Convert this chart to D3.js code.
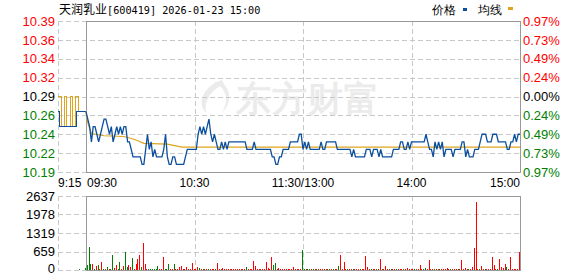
<!DOCTYPE html>
<html>
<head>
<meta charset="utf-8">
<script src="https://cdn.jsdelivr.net/npm/d3@7"></script>
<style>
  html, body { margin: 0; padding: 0; background: #fff; }
  svg { display: block; }
  text { font-family: "Liberation Sans", Arial, sans-serif; }
</style>
</head>
<body>
<div id="chart"></div>
<script>
// ---- data -------------------------------------------------------------
const stockName = "天润乳业";
const stockCode = "[600419]";
const stamp = "2026-01-23 15:00";

const priceMin = 10.19, priceMax = 10.39;
const priceTicks = ["10.39", "10.36", "10.34", "10.32", "10.29", "10.26", "10.24", "10.22", "10.19"];
const pctTicks = ["0.97%", "0.73%", "0.49%", "0.24%", "0.00%", "0.24%", "0.49%", "0.73%", "0.97%"];
const volTicks = [0, 659, 1319, 1978, 2637];

// time axis (minutes from 09:30, call auction before 0)
const timeTicks = [
  { t: -15, label: "9:15", anchor: "start" },
  { t: 0, label: "09:30", anchor: "start" },
  { t: 60, label: "10:30", anchor: "middle" },
  { t: 120, label: "11:30/13:00", anchor: "middle" },
  { t: 180, label: "14:00", anchor: "middle" },
  { t: 240, label: "15:00", anchor: "end" }
];

// call auction 9:15 - 9:30 (step lines)
const auctionPrice = [[-15, 10.27], [-14, 10.25], [-5.1, 10.27], [0, 10.27]];
const auctionAvg = [[-15, 10.29], [-13.3, 10.25], [-11.5, 10.29], [-10.2, 10.25],
  [-8.4, 10.29], [-7.3, 10.25], [-5.5, 10.29], [-4.2, 10.27], [0, 10.27]];
const auctionVolume = { t: -4, v: 36 };

// one price per minute, 09:30 .. 15:00
const prices = [
  10.27, 10.26, 10.25, 10.23, 10.25, 10.25, 10.24, 10.23, 10.24, 10.25,
  10.26, 10.26, 10.25, 10.24, 10.25, 10.23, 10.24, 10.25, 10.24, 10.25,
  10.24, 10.25, 10.25, 10.23, 10.23, 10.22, 10.21, 10.21, 10.21, 10.21,
  10.21, 10.20, 10.20, 10.22, 10.24, 10.22, 10.23, 10.21, 10.22, 10.21,
  10.21, 10.21, 10.21, 10.22, 10.24, 10.21, 10.20, 10.20, 10.21, 10.21,
  10.20, 10.20, 10.20, 10.20, 10.20, 10.21, 10.22, 10.22, 10.22, 10.22,
  10.22, 10.22, 10.24, 10.25, 10.24, 10.25, 10.24, 10.25, 10.26, 10.24,
  10.23, 10.24, 10.23, 10.22, 10.22, 10.23, 10.22, 10.23, 10.22, 10.23,
  10.23, 10.23, 10.23, 10.23, 10.23, 10.23, 10.23, 10.23, 10.23, 10.22,
  10.22, 10.22, 10.22, 10.23, 10.22, 10.22, 10.22, 10.22, 10.22, 10.22,
  10.22, 10.22, 10.22, 10.21, 10.21, 10.20, 10.20, 10.21, 10.21, 10.22,
  10.22, 10.22, 10.22, 10.23, 10.23, 10.23, 10.23, 10.23, 10.24, 10.24,
  10.22, 10.23, 10.22, 10.23, 10.22, 10.22, 10.22, 10.22, 10.22, 10.22,
  10.23, 10.22, 10.22, 10.23, 10.23, 10.23, 10.23, 10.23, 10.23, 10.22,
  10.22, 10.22, 10.22, 10.22, 10.22, 10.22, 10.22, 10.21, 10.22, 10.21,
  10.21, 10.21, 10.21, 10.21, 10.21, 10.22, 10.22, 10.22, 10.21, 10.22,
  10.22, 10.22, 10.21, 10.22, 10.21, 10.21, 10.21, 10.21, 10.21, 10.21,
  10.22, 10.22, 10.22, 10.22, 10.23, 10.23, 10.22, 10.22, 10.23, 10.22,
  10.23, 10.23, 10.23, 10.23, 10.23, 10.23, 10.23, 10.23, 10.24, 10.23,
  10.22, 10.22, 10.21, 10.23, 10.22, 10.23, 10.22, 10.23, 10.21, 10.22,
  10.22, 10.22, 10.22, 10.21, 10.22, 10.22, 10.22, 10.22, 10.23, 10.23,
  10.21, 10.22, 10.21, 10.21, 10.21, 10.22, 10.22, 10.22, 10.23, 10.24,
  10.24, 10.24, 10.23, 10.23, 10.23, 10.24, 10.24, 10.24, 10.23, 10.23,
  10.23, 10.23, 10.23, 10.22, 10.22, 10.23, 10.23, 10.24, 10.23, 10.24,
  10.24
];

// average price line, read at its turning points
const avgMinutes = [0, 1, 3, 10, 21, 27, 32, 45, 53, 240];
const avgValues = [10.27, 10.255, 10.241, 10.238, 10.237, 10.233, 10.228, 10.227, 10.223, 10.223];

// one volume per minute, with its colour (r = up, g = down)
const volumes = [
  60, 178, 820, 214, 214, 36, 143, 167, 36, 286,
  48, 36, 119, 48, 36, 536, 60, 178, 48, 286,
  36, 143, 643, 95, 167, 119, 428, 36, 214, 393,
  524, 95, 964, 214, 48, 48, 48, 48, 36, 48,
  143, 24, 24, 464, 48, 36, 214, 48, 48, 214,
  24, 24, 107, 143, 48, 24, 95, 48, 24, 250,
  48, 24, 95, 60, 36, 36, 36, 24, 36, 36,
  36, 24, 36, 250, 48, 24, 72, 36, 36, 36,
  36, 36, 36, 36, 36, 36, 24, 36, 36, 107,
  48, 36, 36, 321, 143, 36, 36, 36, 36, 36,
  286, 72, 36, 464, 178, 250, 36, 60, 36, 36,
  36, 36, 36, 36, 36, 95, 36, 36, 36, 36,
  714, 36, 36, 36, 36, 36, 36, 36, 36, 36,
  36, 48, 48, 36, 36, 36, 36, 36, 36, 36,
  143, 536, 36, 298, 36, 36, 36, 36, 36, 36,
  36, 36, 36, 36, 36, 500, 107, 36, 36, 36,
  36, 36, 36, 393, 36, 36, 143, 36, 36, 36,
  36, 36, 36, 36, 36, 36, 36, 36, 60, 36,
  36, 36, 36, 36, 36, 178, 36, 36, 60, 36,
  357, 36, 36, 36, 36, 36, 36, 36, 36, 36,
  60, 36, 36, 36, 36, 36, 36, 36, 357, 36,
  60, 36, 36, 36, 107, 785, 2427, 36, 36, 143,
  36, 36, 36, 36, 36, 464, 178, 36, 36, 393,
  107, 60, 214, 107, 36, 464, 36, 24, 24, 24,
  643
];
const volColors = (
  "ggggrgrgrr" + "grgrggrrgg" + "rrggrrgrrr" + "rgrrrggggg" + "grrrgggrrg" +
  "rrrrrrrrrr" + "rrrgrgrrgr" + "rrgrrrrrrr" + "rrrrrrrrrg" + "rrrrrrrrrr" +
  "rrrrggrrrr" + "rrrrrrrrrr" + "ggrggrgrgr" + "rrrgrgrgrr" + "grrrrgrrgr" +
  "rrgrrrrrgr" + "rgrrrgrrrg" + "rrgrrrgrrr" + "rrgrrrrggr" + "rrrgrrgrrr" +
  "rrgrrrgrrr" + "rrgrrrrrgr" + "rgrrrrrrgr" + "rrrgrrrrrr" + "r"
).split("");

// ---- drawing ------------------------------------------------------------
const W = 578, H = 276;
const RED = "#ff0000", GREEN = "#008000", BLUE = "#0b4f9e", GOLD = "#e0a41c";
const GRID = "#c8c8c8", FRAME = "#999999";

const svg = d3.select("#chart").append("svg")
  .attr("width", W).attr("height", H);

const x = d3.scaleLinear().domain([-15, 0, 240]).range([58, 86, 520]);
const yP = d3.scaleLinear().domain([priceMin, priceMax]).range([172, 21]);
const yV = d3.scaleLinear().domain([0, 2637]).range([270, 196]);

const priceLevels = priceTicks.map((d, i) => priceMax - i * (priceMax - priceMin) / (priceTicks.length - 1));
const tickColor = i => i < 4 ? RED : (i === 4 ? "#000" : GREEN);

// watermark
const wm = svg.append("g").attr("fill", "#ebebeb");
wm.append("path")
  .attr("d", "M222,80 C204,86 196,102 206,113 C204,101 210,90 224,84 Z M214,82 C226,88 230,100 222,112 C230,106 233,92 222,82 Z");
wm.append("text")
  .attr("x", 236).attr("y", 111)
  .attr("font-family", "'Noto Sans CJK SC'")
  .attr("font-weight", "bold")
  .attr("font-size", 35)
  .attr("letter-spacing", 1)
  .text("东方财富");

// grids
const grid = svg.append("g")
  .attr("stroke", GRID).attr("stroke-dasharray", "5,3")
  .attr("shape-rendering", "crispEdges");
priceLevels.forEach(p => {
  grid.append("line").attr("x1", x(-15)).attr("x2", x(240))
    .attr("y1", Math.round(yP(p)) + 0.5).attr("y2", Math.round(yP(p)) + 0.5);
});
volTicks.forEach(v => {
  grid.append("line").attr("x1", x(-15)).attr("x2", x(240))
    .attr("y1", Math.round(yV(v)) + 0.5).attr("y2", Math.round(yV(v)) + 0.5);
});
[-15, 60, 120, 180].forEach(t => {
  const xx = Math.round(x(t)) + 0.5;
  grid.append("line").attr("x1", xx).attr("x2", xx).attr("y1", yP(priceMax)).attr("y2", yP(priceMin));
  grid.append("line").attr("x1", xx).attr("x2", xx).attr("y1", yV(2637)).attr("y2", yV(0));
});

// frames
[[yP(priceMax), yP(priceMin)], [yV(2637), yV(0)]].forEach(([t, b]) => {
  svg.append("rect")
    .attr("x", Math.round(x(0)) + 0.5).attr("y", Math.round(t) + 0.5)
    .attr("width", Math.round(x(240)) - Math.round(x(0)))
    .attr("height", Math.round(b) - Math.round(t))
    .attr("fill", "none").attr("stroke", FRAME)
    .attr("shape-rendering", "crispEdges");
});

// price axes labels
svg.append("g").selectAll("text").data(priceTicks).join("text")
  .attr("x", 55).attr("y", (d, i) => yP(priceLevels[i]))
  .attr("dy", "0.36em").attr("text-anchor", "end")
  .attr("font-size", 13).attr("fill", (d, i) => tickColor(i))
  .text(d => d);
svg.append("g").selectAll("text").data(pctTicks).join("text")
  .attr("x", 523).attr("y", (d, i) => yP(priceLevels[i]))
  .attr("dy", "0.36em")
  .attr("font-size", 13).attr("fill", (d, i) => tickColor(i))
  .text(d => d);

// volume axis labels
svg.append("g").selectAll("text").data(volTicks).join("text")
  .attr("x", 55).attr("y", d => yV(d) - (d === 0 ? 2 : 0))
  .attr("dy", "0.36em").attr("text-anchor", "end")
  .attr("font-size", 13).attr("fill", "#000")
  .text(d => d);

// time labels
svg.append("g").selectAll("text").data(timeTicks).join("text")
  .attr("x", d => x(d.t) + (d.t === 0 ? 1 : 0)).attr("y", 187)
  .attr("text-anchor", d => d.anchor)
  .attr("font-size", 12).attr("fill", "#000")
  .text(d => d.label);

// title and legend
const title = svg.append("text").attr("x", 59).attr("y", 14).attr("fill", "#000");
title.append("tspan").attr("font-family", "'Noto Sans CJK SC'").attr("font-size", 12).text(stockName);
title.append("tspan").attr("font-family", "'DejaVu Sans Mono'").attr("font-size", 10.2)
  .text(stockCode + " " + stamp);

svg.append("text").attr("x", 432).attr("y", 14)
  .attr("font-family", "'Noto Sans CJK SC'").attr("font-size", 12).text("价格");
svg.append("rect").attr("x", 463).attr("y", 8).attr("width", 4).attr("height", 3).attr("fill", BLUE);
svg.append("text").attr("x", 478).attr("y", 14)
  .attr("font-family", "'Noto Sans CJK SC'").attr("font-size", 12).text("均线");
svg.append("rect").attr("x", 508).attr("y", 7).attr("width", 5).attr("height", 3).attr("fill", GOLD);

// volume bars
const bars = svg.append("g").attr("shape-rendering", "crispEdges");
bars.selectAll("rect").data(volumes).join("rect")
  .attr("x", (d, i) => Math.round(x(i)) - 1)
  .attr("y", d => Math.round(yV(d)))
  .attr("width", 1)
  .attr("height", d => Math.round(yV(0)) - Math.round(yV(d)))
  .attr("fill", (d, i) => volColors[i] === "r" ? RED : GREEN);
bars.append("rect")
  .attr("x", Math.round(x(auctionVolume.t)))
  .attr("y", Math.round(yV(auctionVolume.v)))
  .attr("width", 1)
  .attr("height", Math.round(yV(0)) - Math.round(yV(auctionVolume.v)))
  .attr("fill", GREEN);

// lines
const stepLine = d3.line().x(d => x(d[0])).y(d => yP(d[1])).curve(d3.curveStepAfter);
svg.append("path").datum(auctionAvg)
  .attr("d", stepLine).attr("fill", "none").attr("stroke", GOLD).attr("stroke-width", 1)
  .attr("shape-rendering", "crispEdges");
svg.append("path").datum(auctionPrice)
  .attr("d", stepLine).attr("fill", "none").attr("stroke", BLUE).attr("stroke-width", 1)
  .attr("shape-rendering", "crispEdges");

const avgLine = d3.line().x((d, i) => x(avgMinutes[i])).y(d => yP(d));
svg.append("path").datum(avgValues)
  .attr("d", avgLine).attr("fill", "none").attr("stroke", GOLD).attr("stroke-width", 1.2);

const priceLine = d3.line().x((d, i) => x(i)).y(d => yP(d));
svg.append("path").datum(prices)
  .attr("d", priceLine).attr("fill", "none").attr("stroke", BLUE).attr("stroke-width", 1.3);
</script>
</body>
</html>
